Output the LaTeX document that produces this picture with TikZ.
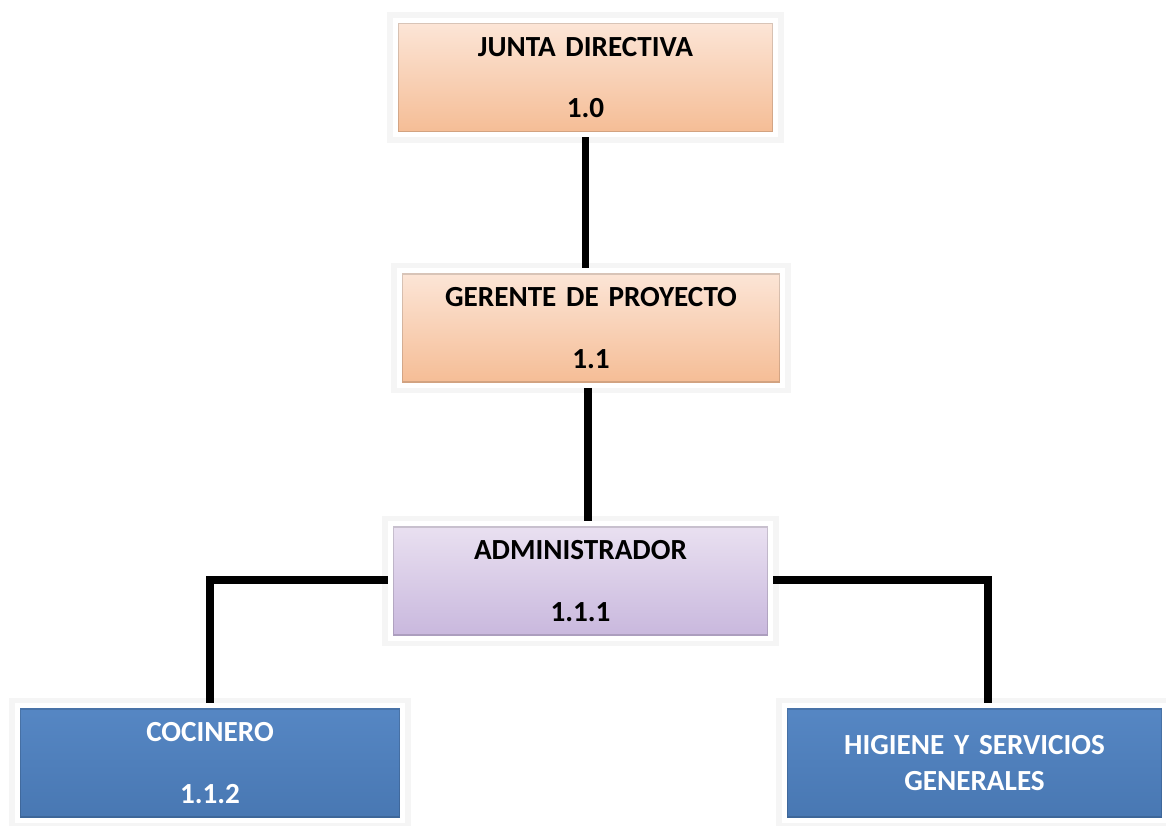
\documentclass[tikz,border=0pt]{standalone}
\usepackage{fontspec}
\setmainfont{Carlito}[WordSpace={0.7,0,0}]
\usetikzlibrary{positioning}

\definecolor{peachtop}{RGB}{252,230,216}
\definecolor{peachbot}{RGB}{245,188,148}
\definecolor{lilactop}{RGB}{234,225,241}
\definecolor{lilacbot}{RGB}{200,183,221}
\definecolor{bluetop}{RGB}{86,135,196}
\definecolor{bluebot}{RGB}{72,119,178}

\begin{document}
\begin{tikzpicture}[
    every node/.style={
        rectangle,
        inner sep=0pt,
        align=center,
        font=\fontsize{16.6}{19}\selectfont\bfseries
    },
    cargo/.style={
        draw=white, line width=3pt,
        preaction={draw=black!4, line width=9pt},
        text width=#1, inner xsep=1.5pt,
        minimum height=2.29cm,
        path picture={
            \draw[black, opacity=0.14, line width=4.5pt]
              (path picture bounding box.south west)
              rectangle (path picture bounding box.north east);
        }
    },
    cargo/.default=7.5cm,
    naranja/.style={cargo, top color=peachtop, bottom color=peachbot},
    lila/.style={cargo, top color=lilactop, bottom color=lilacbot},
    azul/.style={cargo, top color=bluetop, bottom color=bluebot, text=white},
    enlace/.style={line width=4.2pt}
]
\useasboundingbox (0,0) rectangle (23.32,16.5);

\node[naranja] (junta) at (11.71,14.95) {JUNTA DIRECTIVA\\[16pt]1.0};
\node[naranja, text width=7.56cm] (gerente) at (11.82,9.94) {GERENTE DE PROYECTO\\[16pt]1.1};
\node[lila] (admin) at (11.61,4.88) {ADMINISTRADOR\\[16pt]1.1.1};
\node[azul, text width=7.6cm] (cocinero) at (4.2,1.24) {COCINERO\\[16pt]1.1.2};
\node[azul] (higiene) at (19.49,1.24) {HIGIENE Y SERVICIOS\\[2pt]GENERALES};

\draw[enlace] (junta.south) -- (junta.south |- gerente.north);
\draw[enlace] ([xshift=-0.06cm]gerente.south) -- ([xshift=-0.06cm]gerente.south |- admin.north);
\draw[enlace] ([yshift=0.02cm]admin.west) -| (cocinero.north);
\draw[enlace] ([yshift=0.02cm]admin.east) -| ([xshift=0.27cm]higiene.north);
\end{tikzpicture}
\end{document}
